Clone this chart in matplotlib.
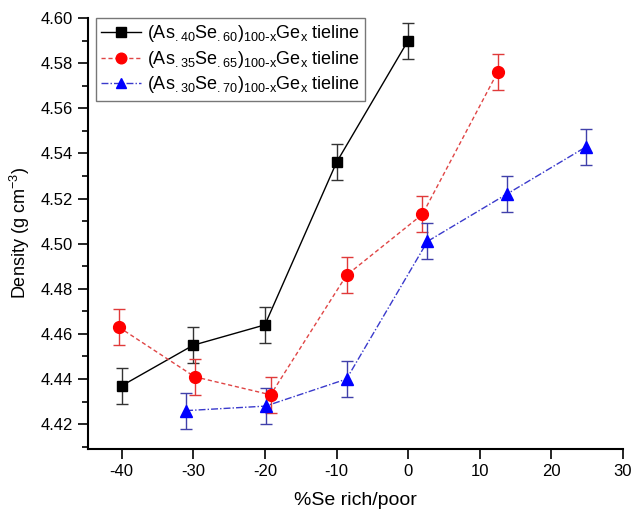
import matplotlib
matplotlib.use("Agg")
import matplotlib.pyplot as plt
from matplotlib.ticker import MultipleLocator, FormatStrFormatter

plt.rcParams['font.family'] = ['Liberation Sans', 'DejaVu Sans']
plt.rcParams['mathtext.default'] = 'regular'
plt.rcParams['axes.unicode_minus'] = False

# data
x_40 = [-40, -30, -20, -10, 0]
y_40 = [4.437, 4.455, 4.464, 4.536, 4.590]
e_40 = [0.008, 0.008, 0.008, 0.008, 0.008]

x_35 = [-40.4, -29.8, -19.2, -8.6, 2.0, 12.5]
y_35 = [4.463, 4.441, 4.433, 4.486, 4.513, 4.576]
e_35 = [0.008, 0.008, 0.008, 0.008, 0.008, 0.008]

x_30 = [-31.0, -19.9, -8.6, 2.7, 13.8, 24.9]
y_30 = [4.426, 4.428, 4.440, 4.501, 4.522, 4.543]
e_30 = [0.008, 0.008, 0.008, 0.008, 0.008, 0.008]

labels = [r'(As$_{.40}$Se$_{.60}$)$_{100\text{-}x}$Ge$_{x}$ tieline',
          r'(As$_{.35}$Se$_{.65}$)$_{100\text{-}x}$Ge$_{x}$ tieline',
          r'(As$_{.30}$Se$_{.70}$)$_{100\text{-}x}$Ge$_{x}$ tieline']

fig = plt.figure(figsize=(6.34, 5.13), dpi=100)
ax = fig.add_axes([0.1388, 0.1248, 0.8438, 0.8401])

c1 = ax.errorbar(x_40, y_40, yerr=e_40, color='black', ecolor='#333333', lw=1,
                 elinewidth=1, capsize=4, capthick=1, marker='s', ms=7.5,
                 ls='-', label=labels[0])
c2 = ax.errorbar(x_35, y_35, yerr=e_35, color='#e04545', mfc='#ff0000', mec='#ff0000',
                 ecolor='#e03a3a', lw=1, elinewidth=1, capsize=4, capthick=1,
                 marker='o', ms=8.5, ls=(0, (3, 2)), label=labels[1])
c3 = ax.errorbar(x_30, y_30, yerr=e_30, color='#3a3acc', mfc='#0000ff', mec='#0000ff',
                 ecolor='#4040aa', lw=1, elinewidth=1, capsize=4, capthick=1,
                 marker='^', ms=8.5, ls=(0, (5, 1.5, 1, 1.5)), label=labels[2])

ax.set_xlim(-44.7, 30)
ax.set_ylim(4.409, 4.60)
ax.xaxis.set_major_locator(MultipleLocator(10))
ax.yaxis.set_major_locator(MultipleLocator(0.02))
ax.yaxis.set_minor_locator(MultipleLocator(0.01))
ax.yaxis.set_major_formatter(FormatStrFormatter('%.2f'))

for s in ['top', 'right']:
    ax.spines[s].set_visible(False)
for s in ['left', 'bottom']:
    ax.spines[s].set_linewidth(1.5)
ax.tick_params(which='major', length=7, width=1.2, labelsize=12, pad=4)
ax.tick_params(which='minor', length=4, width=1.2)

ax.set_xlabel('%Se rich/poor', fontsize=14, labelpad=9)
ax.set_ylabel(r'Density (g cm$^{-3}$)', fontsize=13, labelpad=6)

# legend shows only line + marker, no error bars
handles = [c1.lines[0], c2.lines[0], c3.lines[0]]
leg = ax.legend(handles, labels, loc='upper left', bbox_to_anchor=(0.015, 1.0),
                fontsize=13, frameon=True, fancybox=False, edgecolor='#555555',
                handlelength=2.2, handletextpad=0.3, borderpad=0.3,
                labelspacing=0.25, borderaxespad=0, markerscale=0.9)
leg.get_frame().set_linewidth(1)

fig.savefig('out.png', dpi=100)
